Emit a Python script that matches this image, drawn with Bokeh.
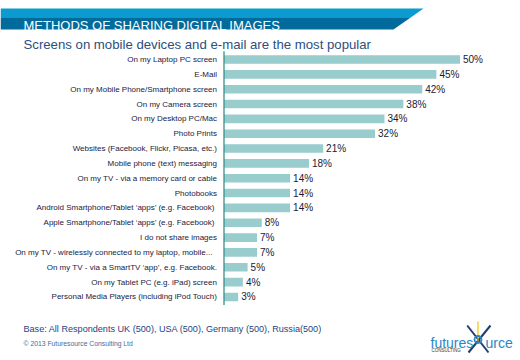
from bokeh.plotting import figure
from bokeh.models import Range1d, ColumnDataSource
from bokeh.core.properties import value
from bokeh.embed import file_html
from bokeh.resources import INLINE

categories = [
    "On my Laptop PC screen",
    "E-Mail",
    "On my Mobile Phone/Smartphone screen",
    "On my Camera screen",
    "On my Desktop PC/Mac",
    "Photo Prints",
    "Websites (Facebook, Flickr, Picasa, etc.)",
    "Mobile phone (text) messaging",
    "On my TV - via a memory card or cable",
    "Photobooks",
    "Android Smartphone/Tablet  \u2018apps\u2019 (e.g. Facebook)",
    "Apple Smartphone/Tablet  \u2018apps\u2019 (e.g. Facebook)",
    "I do not share images",
    "On my TV - wirelessly  connected to my laptop,  mobile...",
    "On my TV - via a SmartTV \u2018app\u2019, e.g. Facebook.",
    "On my Tablet PC (e.g. iPad) screen",
    "Personal Media Players (including iPod Touch)",
]
percent = [50, 45, 42, 38, 34, 32, 21, 18, 14, 14, 14, 8, 7, 7, 5, 4, 3]
value_labels = [f"{v}%" for v in percent]

title_text = "METHODS OF SHARING DIGITAL IMAGES"
subtitle_text = "Screens on mobile devices and e-mail are the most popular"
base_text = "Base: All Respondents UK (500), USA (500), Germany (500), Russia(500)"
copyright_text = "\u00a9 2013 Futuresource Consulting Ltd"

W, H = 520, 360
X0 = 223.5      # pixel of 0%
PX_PER_PCT = 4.72
Y0 = 59.0       # pixel (from top) of first row centre
ROW = 14.84

def px2x(px):
    return (px - X0) / PX_PER_PCT

def px2y(py):
    return (py - Y0) / ROW

p = figure(width=W, height=H, output_backend="svg", toolbar_location=None,
           x_range=Range1d(px2x(0), px2x(W)),
           y_range=Range1d(px2y(H), px2y(0)),
           x_axis_location=None, y_axis_location=None,
           min_border=0, outline_line_color=None)
p.xgrid.visible = False
p.ygrid.visible = False
p.background_fill_color = "white"
p.border_fill_color = "white"

idx = list(range(len(categories)))
src = ColumnDataSource(dict(y=idx, v=percent, cat=categories, lab=value_labels))

# bars
p.hbar(y="y", left=0, right="v", height=0.58, source=src,
       fill_color="#99cccc", line_color=None)
# axis line
p.segment(x0=0, y0=-0.55, x1=0, y1=len(categories) - 0.45,
          line_color="#3a8f8f", line_width=1.3)
# value labels
p.text(x="v", y="y", text="lab", source=src, x_offset=3,
       text_font=value("Liberation Sans"), text_font_size="10px",
       text_color="#1a1a33", text_baseline="middle", text_align="left")
# category labels
p.text(x=px2x(216.5), y="y", text="cat", source=src,
       text_font=value("Liberation Sans"), text_font_size="8px",
       text_color="#1a1a40", text_baseline="middle", text_align="right")

# title banner
p.patch(x=[px2x(0), px2x(423), px2x(410.6), px2x(0)],
        y=[px2y(8), px2y(8), px2y(16.7), px2y(16.7)],
        fill_color="#0b9bd0", line_color=None)
p.patch(x=[px2x(0), px2x(410.6), px2x(393), px2x(0)],
        y=[px2y(16.7), px2y(16.7), px2y(29), px2y(29)],
        fill_color="#026b9c", line_color=None)
p.text(x=[px2x(23)], y=[px2y(25)], text=[title_text],
       text_font=value("Liberation Sans"), text_font_size="13px",
       text_color="white", text_baseline="alphabetic")
p.text(x=[px2x(23)], y=[px2y(44)], text=[subtitle_text],
       text_font=value("Liberation Sans"), text_font_size="13.2px",
       text_color="#2b4f7e", text_baseline="alphabetic")

# footer
p.text(x=[px2x(23)], y=[px2y(328.5)], text=[base_text],
       text_font=value("Liberation Sans"), text_font_size="9.1px",
       text_color="#1f3f7f", text_baseline="alphabetic")
p.text(x=[px2x(23)], y=[px2y(342.5)], text=[copyright_text],
       text_font=value("Liberation Sans"), text_font_size="6.8px",
       text_color="#4a6a9a", text_baseline="alphabetic")

# logo
p.segment(x0=[px2x(466.7), px2x(490)], y0=[px2y(325), px2y(325)],
          x1=[px2x(488), px2x(468)], y1=[px2y(352), px2y(352)],
          line_color="#1f3f6a", line_width=2)
p.segment(x0=[px2x(477.5)], y0=[px2y(321)], x1=[px2x(477.5)], y1=[px2y(341)],
          line_color="#f2c200", line_width=1.2)
p.circle(x=[px2x(477.5)], y=[px2y(339)], radius=3.5 / PX_PER_PCT,
         fill_color=None, line_color="#2a86c8", line_width=1.8)
p.text(x=[px2x(430)], y=[px2y(342.5)], text=["futures"],
       text_font=value("Liberation Sans"), text_font_size="14px",
       text_color="#2a86c8", text_baseline="alphabetic")
p.text(x=[px2x(485)], y=[px2y(342.5)], text=["urce"],
       text_font=value("Liberation Sans"), text_font_size="14px",
       text_color="#2a86c8", text_baseline="alphabetic")
p.text(x=[px2x(431)], y=[px2y(349.5)], text=["CONSULTING"],
       text_font=value("Liberation Sans"), text_font_size="4.5px",
       text_color="#333333", text_baseline="alphabetic")

open("out.html", "w").write(file_html(p, INLINE))
